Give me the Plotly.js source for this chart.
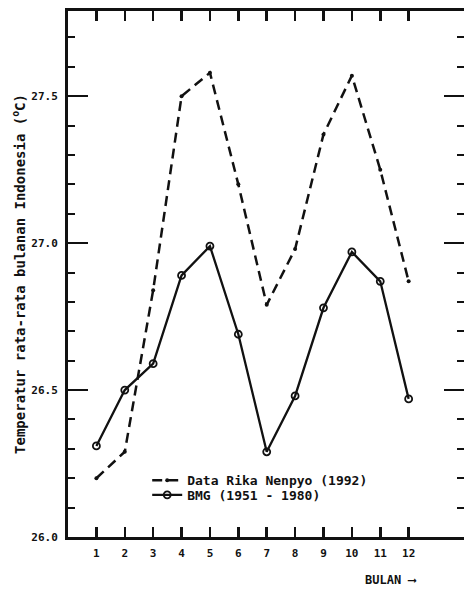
<!DOCTYPE html>
<html>
<head>
<meta charset="utf-8">
<script src="https://cdn.plot.ly/plotly-3.0.1.min.js"></script>
<style>html,body{margin:0;padding:0;background:#fff;}#chart{width:464px;height:594px;}</style>
</head>
<body>
<div id="chart"></div>
<script>
const months = [1,2,3,4,5,6,7,8,9,10,11,12];
const tickLabels = ['1','2','3','4','5','6','7','8','9','10','11','12'];
const rikaNenpyo = [26.20,26.29,26.84,27.50,27.58,27.20,26.79,26.98,27.37,27.57,27.25,26.87];
const bmg = [26.31,26.50,26.59,26.89,26.99,26.69,26.29,26.48,26.78,26.97,26.87,26.47];
const seriesNames = ['Data Rika Nenpyo (1992)','BMG (1951 - 1980)'];

const FONT = 'DejaVu Sans Mono, monospace';
const txt = {family: FONT, size: 11, color: '#111', weight: 'bold'};
const legTxt = {family: FONT, size: 13, color: '#111', weight: 'bold'};

const traces = [
  {x: months, y: rikaNenpyo, name: seriesNames[0], mode: 'lines+markers', legend: 'legend',
   line: {color: '#111', width: 2.5, dash: '10px,6px'},
   marker: {symbol: 'circle', size: 4, color: '#111'}},
  {x: months, y: bmg, name: seriesNames[1], mode: 'lines+markers', legend: 'legend2',
   line: {color: '#111', width: 2.3},
   marker: {symbol: 'circle-open', size: 7, color: '#111', line: {width: 1.8, color: '#111'}}}
];

const xr = [0, 13.95];
const layout = {
  width: 464, height: 594,
  margin: {l: 68, r: 0, t: 11, b: 57},
  paper_bgcolor: '#fff', plot_bgcolor: '#fff',
  font: txt,
  showlegend: true,
  legend: {x: 0.2, y: 0.108, xanchor: 'left', yanchor: 'middle', bgcolor: 'rgba(0,0,0,0)',
           font: legTxt, itemwidth: 30, borderwidth: 0},
  legend2: {x: 0.2, y: 0.080, xanchor: 'left', yanchor: 'middle', bgcolor: 'rgba(0,0,0,0)',
           font: legTxt, itemwidth: 30, borderwidth: 0},
  xaxis: {range: xr, tickvals: months, ticktext: tickLabels,
          ticks: 'inside', ticklen: 10, tickwidth: 2.5, tickcolor: '#111',
          showline: true, linewidth: 3, linecolor: '#111', mirror: 'ticks',
          showgrid: false, zeroline: false, tickfont: txt, ticklabelstandoff: 4},
  xaxis2: {overlaying: 'x', anchor: 'y', range: xr, tickvals: [5, 10], showticklabels: false,
           ticks: 'inside', ticklen: 22, tickwidth: 2.5, tickcolor: '#111',
           mirror: 'ticks', showline: false, showgrid: false, zeroline: false, side: 'bottom'},
  xaxis3: {overlaying: 'x', anchor: 'y', range: xr, tickvals: [13], showticklabels: false,
           ticks: 'inside', ticklen: 10, tickwidth: 2.5, tickcolor: '#111',
           mirror: 'ticks', showline: false, showgrid: false, zeroline: false, side: 'bottom'},
  yaxis: {range: [26.0, 27.79], tickvals: [26.0, 26.5, 27.0, 27.5], ticktext: ['26.0','26.5','27.0','27.5'],
          ticks: 'inside', ticklen: 20, tickwidth: 2.5, tickcolor: '#111',
          minor: {dtick: 0.1, ticks: 'inside', ticklen: 7, tickwidth: 2, tickcolor: '#111'},
          showline: true, linewidth: 3, linecolor: '#111', mirror: 'ticks',
          showgrid: false, zeroline: false, tickfont: txt, ticklabelstandoff: 5,
          title: {text: 'Temperatur rata-rata bulanan Indonesia (<sup>o</sup>C)',
                  font: {family: FONT, size: 14, color: '#111', weight: 'bold'}, standoff: 3}},
  annotations: [
    {text: 'BULAN \u27F6', xref: 'paper', yref: 'paper', x: 0.885, y: -0.082,
     xanchor: 'right', yanchor: 'middle', showarrow: false,
     font: {family: FONT, size: 12, color: '#111', weight: 'bold'}}
  ]
};

Plotly.newPlot('chart', traces, layout, {displayModeBar: false, staticPlot: true});
</script>
</body>
</html>
